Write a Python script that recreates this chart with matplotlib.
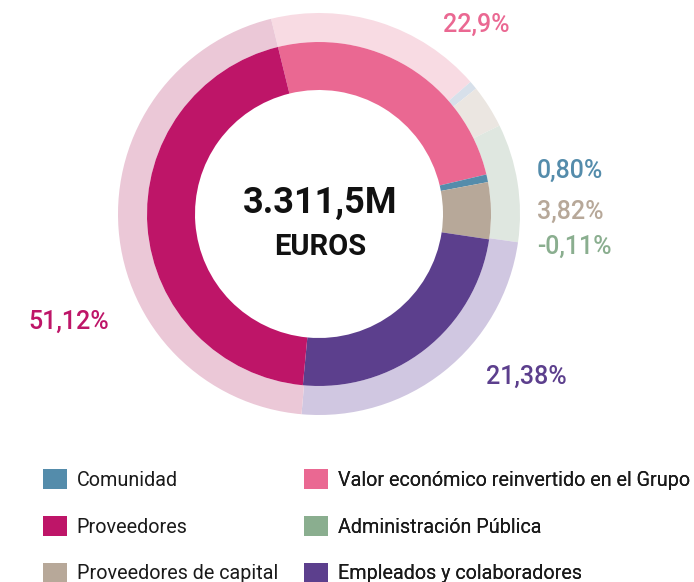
import matplotlib
matplotlib.use("Agg")
import matplotlib.pyplot as plt
from matplotlib.patches import Patch

# slices in clockwise order, starting at the top-left boundary
categories = ["Valor económico reinvertido en el Grupo", "Comunidad",
              "Proveedores de capital", "Administración Pública",
              "Empleados y colaboradores", "Proveedores"]
pct_labels = ["22,9%", "0,80%", "3,82%", "-0,11%", "21,38%", "51,12%"]
inner_share = [25.14, 0.72, 5.33, 0.0, 24.14, 44.67]
outer_share = [17.42, 0.69, 3.47, 9.50, 24.14, 44.78]
strong = ["#ea6892", "#548cab", "#b7a899", "#8aae8f", "#5c3f8d", "#be1568"]
pale = ["#f8dbe3", "#d7e0ea", "#ebe6e1", "#dfe7e0", "#d0c7e1", "#ebc8d7"]
total_text = "3.311,5M"
unit_text = "EUROS"

legend_col1 = ["Comunidad", "Proveedores", "Proveedores de capital"]
legend_col2 = ["Valor económico reinvertido en el Grupo",
               "Administración Pública", "Empleados y colaboradores"]

W, H = 694, 582
fig = plt.figure(figsize=(W / 100, H / 100), dpi=100)
ax = fig.add_axes([0, 0, 1, 1])

cx, cy = 319, H - 214
ax.pie(outer_share, radius=201, center=(cx, cy), startangle=103.8,
       counterclock=False, colors=pale,
       wedgeprops=dict(width=29, linewidth=0))
ax.pie(inner_share, radius=172, center=(cx, cy), startangle=103.8,
       counterclock=False, colors=strong,
       wedgeprops=dict(width=48, linewidth=0))
ax.set_xlim(0, W)
ax.set_ylim(0, H)
ax.set_aspect("equal")
ax.axis("off")

ax.text(cx + 1, H - 203, total_text, ha="center", va="center", fontsize=26,
        fontweight="bold", family="Roboto", color="#111111")
ax.text(cx + 1, H - 247, unit_text, ha="center", va="center", fontsize=21,
        fontweight="bold", family="Roboto", color="#111111")

label_pos = {"22,9%": (443, 25), "0,80%": (537, 171), "3,82%": (537, 212),
             "-0,11%": (537, 247), "21,38%": (486, 377), "51,12%": (28, 322)}
for lab, col in zip(pct_labels, strong):
    x, y = label_pos[lab]
    ax.text(x, H - y, lab, ha="left", va="center", fontsize=18,
            fontweight="medium", family="Roboto", color=col)

lut = dict(zip(categories, strong))
fs = 14.2
for items, x0 in [(legend_col1, 43), (legend_col2, 304)]:
    handles = [Patch(facecolor=lut[c], edgecolor="none") for c in items]
    leg = ax.legend(handles, items, loc="upper left",
                    bbox_to_anchor=(x0 / W, 1 - 469 / H), frameon=False,
                    borderpad=0, borderaxespad=0, handlelength=1.2,
                    handleheight=1.2, handletextpad=0.5, labelspacing=1.32,
                    prop=dict(family="Roboto", size=fs), labelcolor="#1a1a1a")
    ax.add_artist(leg)

fig.savefig("out.png", dpi=100)
